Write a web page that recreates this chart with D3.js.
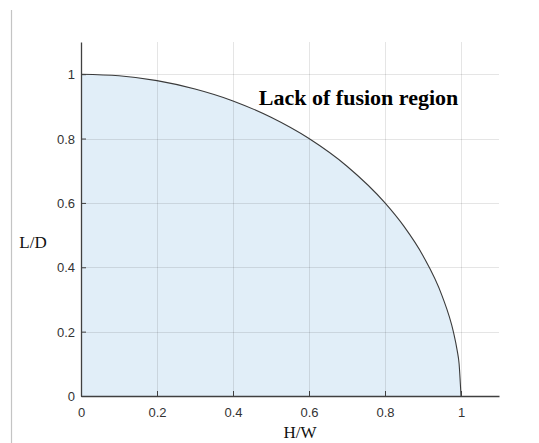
<!DOCTYPE html>
<html>
<head>
<meta charset="utf-8">
<script src="https://cdn.jsdelivr.net/npm/d3@7/dist/d3.min.js"></script>
<style>
  html, body { margin: 0; padding: 0; background: #fff; }
  svg { display: block; }
</style>
</head>
<body>
<svg id="chart" width="539" height="443"></svg>
<script>
// Boundary of the lack-of-fusion region: L/D against H/W
const hw = [0, 0.1, 0.2, 0.3, 0.4, 0.5, 0.6, 0.7, 0.8, 0.85, 0.9, 0.95, 0.98, 0.99, 0.995, 1.0];
const ld = [1, 0.995, 0.98, 0.954, 0.917, 0.866, 0.8, 0.714, 0.6, 0.527, 0.436, 0.312, 0.199, 0.141, 0.1, 0];

const xTicks = [0, 0.2, 0.4, 0.6, 0.8, 1];
const yTicks = [0, 0.2, 0.4, 0.6, 0.8, 1];
const xTickLabels = ["0", "0.2", "0.4", "0.6", "0.8", "1"];
const yTickLabels = ["0", "0.2", "0.4", "0.6", "0.8", "1"];

const regionLabel = "Lack of fusion region";
const xLabel = "H/W";
const yLabel = "L/D";

const svg = d3.select("#chart");

const x = d3.scaleLinear().domain([0, 1.1]).range([81, 499]);
const y = d3.scaleLinear().domain([0, 1.1]).range([396, 42]);

const points = hw.map((v, i) => ({ hw: v, ld: ld[i] }));

// page frame line on the left
svg.append("line")
  .attr("x1", 11.5).attr("x2", 11.5)
  .attr("y1", 10).attr("y2", 443)
  .attr("stroke", "#c4c4c4").attr("stroke-width", 1.2);

// filled region under the boundary
const area = d3.area()
  .x(d => x(d.hw))
  .y0(y(0))
  .y1(d => y(d.ld))
  .curve(d3.curveMonotoneX);

svg.append("path")
  .datum(points)
  .attr("d", area)
  .attr("fill", "#e1eef8");

// grid
const grid = svg.append("g").attr("class", "grid");
grid.selectAll("line.gx")
  .data(xTicks.filter(t => t > 0))
  .join("line")
  .attr("class", "gx")
  .attr("x1", d => Math.round(x(d)) + 0.5).attr("x2", d => Math.round(x(d)) + 0.5)
  .attr("y1", y(0)).attr("y2", y(1.1))
  .attr("stroke", "#000").attr("stroke-opacity", 0.1).attr("stroke-width", 1);
grid.selectAll("line.gy")
  .data(yTicks.filter(t => t > 0))
  .join("line")
  .attr("class", "gy")
  .attr("y1", d => Math.round(y(d)) + 0.5).attr("y2", d => Math.round(y(d)) + 0.5)
  .attr("x1", x(0)).attr("x2", x(1.1))
  .attr("stroke", "#000").attr("stroke-opacity", 0.1).attr("stroke-width", 1);

// boundary curve
const line = d3.line()
  .x(d => x(d.hw))
  .y(d => y(d.ld))
  .curve(d3.curveMonotoneX);

svg.append("path")
  .datum(points)
  .attr("d", line)
  .attr("fill", "none")
  .attr("stroke", "#3a3a3a")
  .attr("stroke-width", 1.1);

// axes with inward ticks
const xAxis = d3.axisBottom(x)
  .tickValues(xTicks)
  .tickFormat((d, i) => xTickLabels[i])
  .tickSizeInner(-5)
  .tickSizeOuter(0)
  .tickPadding(12);

const yAxis = d3.axisLeft(y)
  .tickValues(yTicks)
  .tickFormat((d, i) => yTickLabels[i])
  .tickSizeInner(-5)
  .tickSizeOuter(0)
  .tickPadding(6);

const gx = svg.append("g")
  .attr("transform", `translate(0,${y(0)})`)
  .call(xAxis);
const gy = svg.append("g")
  .attr("transform", `translate(${x(0)},0)`)
  .call(yAxis);

[gx, gy].forEach(g => {
  g.select(".domain").attr("stroke", "#404040").attr("stroke-width", 1.3);
  g.selectAll(".tick line").attr("stroke", "#404040").attr("stroke-width", 1);
  g.selectAll(".tick text")
    .attr("font-family", "'Liberation Sans', Arial, Helvetica, sans-serif")
    .attr("font-size", 13)
    .attr("fill", "#333");
});
gx.selectAll(".tick text").attr("dy", "0.71em");
gy.selectAll(".tick text").attr("dy", "0.35em");

// axis labels
svg.append("text")
  .attr("x", 300).attr("y", 438)
  .attr("text-anchor", "middle")
  .attr("font-family", "'Liberation Serif', 'Times New Roman', serif")
  .attr("font-size", 17)
  .attr("fill", "#111")
  .text(xLabel);

svg.append("text")
  .attr("x", 33).attr("y", 248)
  .attr("text-anchor", "middle")
  .attr("font-family", "'Liberation Serif', 'Times New Roman', serif")
  .attr("font-size", 17)
  .attr("fill", "#111")
  .text(yLabel);

// region annotation
svg.append("text")
  .attr("x", x(0.468)).attr("y", y(0.903))
  .attr("font-family", "'Liberation Serif', 'Times New Roman', serif")
  .attr("font-weight", "bold")
  .attr("font-size", 22)
  .attr("fill", "#000")
  .text(regionLabel);
</script>
</body>
</html>
